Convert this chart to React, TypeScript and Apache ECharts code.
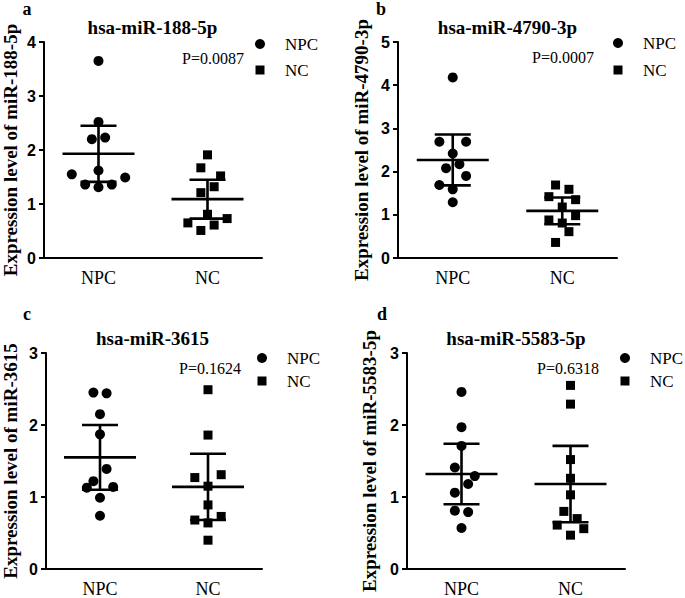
import React, { useEffect, useRef } from "react";
import * as echarts from "echarts";

// ---------- data ----------
const groups = ["NPC", "NC"];
const panelLetters = ["a", "b", "c", "d"];
const panelTitles = ["hsa-miR-188-5p", "hsa-miR-4790-3p", "hsa-miR-3615", "hsa-miR-5583-5p"];
const yAxisNames = [
  "Expression level of miR-188-5p",
  "Expression level of miR-4790-3p",
  "Expression level of miR-3615",
  "Expression level of miR-5583-5p",
];
const pValues = ["P=0.0087", "P=0.0007", "P=0.1624", "P=0.6318"];
const yMax = [4, 5, 3, 3];

// panel a
const aNPC = [3.65, 2.52, 2.2, 2.23, 1.55, 1.62, 1.49, 1.36, 1.36, 1.31];
const aNPCJitter = [0, 0, -0.061, 0.061, -0.245, 0, 0.245, -0.122, 0.122, 0];
const aNC = [1.91, 1.67, 1.52, 1.32, 1.21, 0.81, 0.73, 0.65, 0.61, 0.51];
const aNCJitter = [0, -0.061, 0.12, 0.061, -0.061, 0, 0.18, -0.18, 0.061, -0.061];
// panel b
const bNPC = [4.18, 2.69, 2.69, 2.42, 2.08, 2.17, 1.9, 1.69, 1.59, 1.29];
const bNPCJitter = [0, -0.122, 0.122, 0, -0.061, 0.061, 0.122, -0.122, 0, 0];
const bNC = [1.69, 1.59, 1.42, 1.35, 1.18, 0.88, 0.98, 0.81, 0.61, 0.36];
const bNCJitter = [-0.061, 0.061, -0.122, 0.122, 0, -0.122, 0.122, 0, 0.061, -0.061];
// panel c
const cNPC = [2.45, 2.44, 2.15, 1.87, 1.39, 1.22, 1.13, 1.14, 0.99, 0.74];
const cNPCJitter = [-0.061, 0.061, 0, 0, 0.061, -0.061, -0.122, 0.122, 0, 0];
const cNC = [2.49, 1.86, 1.27, 1.31, 1.15, 0.89, 0.68, 0.73, 0.64, 0.4];
const cNCJitter = [0, 0, -0.122, 0.122, 0, 0, -0.122, 0.122, 0, 0];
// panel d
const dNPC = [2.46, 1.97, 1.71, 1.41, 1.29, 1.18, 1.06, 0.81, 0.79, 0.57];
const dNPCJitter = [0, 0, 0, -0.061, 0.122, 0.061, -0.061, -0.061, 0.061, 0];
const dNC = [2.55, 2.29, 1.52, 1.26, 1.03, 0.8, 0.7, 0.61, 0.56, 0.47];
const dNCJitter = [0, 0, 0, 0, 0, -0.061, 0.061, -0.122, 0.122, 0];

// mean and SD per panel, [NPC, NC]
const means = [
  [1.93, 1.09],
  [2.27, 1.09],
  [1.55, 1.14],
  [1.32, 1.18],
];
const sds = [
  [0.52, 0.36],
  [0.59, 0.31],
  [0.45, 0.46],
  [0.42, 0.53],
];

const npcSets = [aNPC, bNPC, cNPC, dNPC];
const npcJitters = [aNPCJitter, bNPCJitter, cNPCJitter, dNPCJitter];
const ncSets = [aNC, bNC, cNC, dNC];
const ncJitters = [aNCJitter, bNCJitter, cNCJitter, dNCJitter];

// ---------- layout ----------
const grids = [
  { left: 43, top: 42, width: 219, height: 216 },
  { left: 398, top: 42, width: 219, height: 216 },
  { left: 43, top: 353, width: 219, height: 218 },
  { left: 407, top: 353, width: 218, height: 218 },
];
const nameGaps = [24, 27, 26, 28];
const letterPos = [
  [27, 9],
  [381, 9],
  [27, 314],
  [382, 314],
];
const pPos = [
  [213, 58],
  [563, 57],
  [210, 368],
  [568, 368],
];
const legendPos = [
  [260, 44, 26],
  [618, 43, 27],
  [262, 358, 23],
  [625, 358, 23],
];

const SERIF = "Liberation Serif";
const SANS = "Liberation Sans";

function txt(text: string, x: number, y: number, size: number, weight: string, align: string) {
  return {
    type: "text",
    style: {
      text,
      x,
      y,
      textAlign: align,
      textVerticalAlign: "middle",
      fontFamily: SERIF,
      fontSize: size,
      fontWeight: weight,
      fill: "#000",
    },
  };
}

function buildOption() {
  const xAxis: any[] = [];
  const yAxis: any[] = [];
  const series: any[] = [];
  const graphic: any[] = [];

  grids.forEach((g, i) => {
    xAxis.push({
      type: "category",
      gridIndex: i,
      data: groups,
      boundaryGap: true,
      axisLine: { lineStyle: { color: "#000", width: 2 } },
      axisTick: { alignWithLabel: true, length: 5, lineStyle: { color: "#000", width: 2 } },
      axisLabel: { color: "#000", fontFamily: SERIF, fontSize: 18, margin: 11 },
      splitLine: { show: false },
    });
    xAxis.push({
      type: "value",
      gridIndex: i,
      min: 0.5,
      max: 2.5,
      show: false,
    });
    yAxis.push({
      type: "value",
      gridIndex: i,
      min: 0,
      max: yMax[i],
      interval: 1,
      name: yAxisNames[i],
      nameLocation: "middle",
      nameGap: nameGaps[i],
      nameTextStyle: { color: "#000", fontFamily: SERIF, fontWeight: "bold", fontSize: 19 },
      axisLine: { show: true, lineStyle: { color: "#000", width: 2 } },
      axisTick: { show: true, length: 5, lineStyle: { color: "#000", width: 2 } },
      axisLabel: { color: "#000", fontFamily: SANS, fontWeight: "bold", fontSize: 16, margin: 8 },
      splitLine: { show: false },
    });

    series.push({
      type: "custom",
      name: "meanSD",
      xAxisIndex: 2 * i + 1,
      yAxisIndex: i,
      data: [
        [1, means[i][0], sds[i][0]],
        [2, means[i][1], sds[i][1]],
      ],
      renderItem: (params: any, api: any) => {
        const x = api.value(0);
        const m = api.value(1);
        const s = api.value(2);
        const c = api.coord([x, m]);
        const t = api.coord([x, m + s]);
        const b = api.coord([x, m - s]);
        const st = { stroke: "#000", lineWidth: 2.6 };
        return {
          type: "group",
          children: [
            { type: "line", shape: { x1: c[0] - 36, y1: c[1], x2: c[0] + 36, y2: c[1] }, style: st },
            { type: "line", shape: { x1: c[0], y1: t[1], x2: c[0], y2: b[1] }, style: st },
            { type: "line", shape: { x1: c[0] - 18, y1: t[1], x2: c[0] + 18, y2: t[1] }, style: st },
            { type: "line", shape: { x1: c[0] - 18, y1: b[1], x2: c[0] + 18, y2: b[1] }, style: st },
          ],
        };
      },
      z: 3,
    });
    series.push({
      type: "scatter",
      name: "NPC",
      xAxisIndex: 2 * i + 1,
      yAxisIndex: i,
      symbol: "circle",
      symbolSize: 10,
      itemStyle: { color: "#000", opacity: 1 },
      data: npcSets[i].map((v, k) => [1 + npcJitters[i][k], v]),
      z: 2,
    });
    series.push({
      type: "scatter",
      name: "NC",
      xAxisIndex: 2 * i + 1,
      yAxisIndex: i,
      symbol: "rect",
      symbolSize: 9,
      itemStyle: { color: "#000", opacity: 1 },
      data: ncSets[i].map((v, k) => [2 + ncJitters[i][k], v]),
      z: 2,
    });

    graphic.push(txt(panelTitles[i], g.left + g.width / 2, g.top - 15, 19, "bold", "center"));
    graphic.push(txt(panelLetters[i], letterPos[i][0], letterPos[i][1], 18, "bold", "center"));
    graphic.push(txt(pValues[i], pPos[i][0], pPos[i][1], 16, "normal", "center"));

    const [lx, ly, lstep] = legendPos[i];
    graphic.push({ type: "circle", shape: { cx: lx, cy: ly, r: 5 }, style: { fill: "#000" } });
    graphic.push({
      type: "rect",
      shape: { x: lx - 4.5, y: ly + lstep - 4.5, width: 9, height: 9 },
      style: { fill: "#000" },
    });
    graphic.push(txt(groups[0], lx + 25, ly, 17, "normal", "left"));
    graphic.push(txt(groups[1], lx + 25, ly + lstep, 17, "normal", "left"));
  });

  return {
    animation: false,
    backgroundColor: "#fff",
    grid: grids.map((g) => ({ ...g, containLabel: false })),
    xAxis,
    yAxis,
    series,
    graphic,
  };
}

export default function App() {
  const ref = useRef<HTMLDivElement>(null);
  useEffect(() => {
    if (!ref.current) return;
    const chart = echarts.init(ref.current, undefined, { renderer: "svg" });
    chart.setOption(buildOption() as any);
    return () => chart.dispose();
  }, []);
  return (
    <div
      ref={ref}
      style={{ position: "fixed", left: 0, top: 0, width: 685, height: 598, background: "#fff" }}
    />
  );
}
